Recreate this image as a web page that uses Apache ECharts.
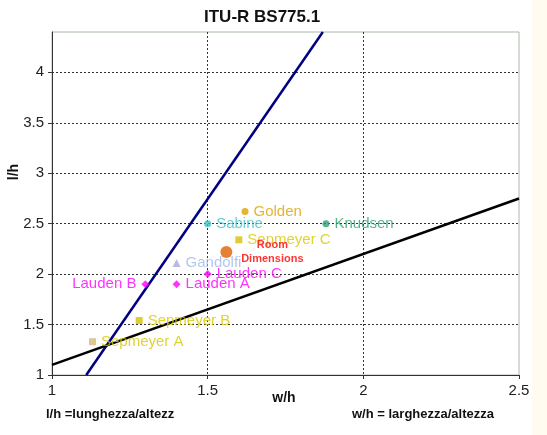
<!DOCTYPE html>
<html>
<head>
<meta charset="utf-8">
<script src="https://cdn.jsdelivr.net/npm/echarts@6/dist/echarts.min.js"></script>
<style>
  html, body { margin: 0; padding: 0; background: #fff; }
  #chart { width: 547px; height: 435px; }
</style>
</head>
<body>
<div id="chart"></div>
<script>
// rooms: w/h and l/h
const pointNames = ['Sepmeyer A', 'Sepmeyer B', 'Sepmeyer C', 'Lauden A', 'Lauden B', 'Lauden C',
                    'Gandolfi', 'Sabine', 'Golden', 'Knudsen', 'Room Dimensions'];
const whValues = [1.13, 1.28, 1.60, 1.40, 1.30, 1.50, 1.40, 1.50, 1.62, 1.88, 1.56];
const lhValues = [1.33, 1.54, 2.34, 1.90, 1.90, 2.00, 2.11, 2.50, 2.62, 2.50, 2.22];

// limit lines (w/h, l/h end points)
const upperLine = [[1.11, 1.0], [1.87, 4.4]];
const lowerLine = [[1.0, 1.1], [2.5, 2.75]];

const xTicks = [1, 1.5, 2, 2.5];
const yTicks = [1, 1.5, 2, 2.5, 3, 3.5, 4];

const FONT = 'Liberation Sans, Arial, sans-serif';

const styles = {
  'Sepmeyer A': { symbol: 'rect', size: 7, color: '#d8b878', text: '#d8c800' },
  'Sepmeyer B': { symbol: 'rect', size: 7, color: '#d8c000', text: '#d8c800' },
  'Sepmeyer C': { symbol: 'rect', size: 7, color: '#d8c000', text: '#d8c800' },
  'Lauden A': { symbol: 'diamond', size: 8, color: '#ff00ff', text: '#ff00ff' },
  'Lauden B': { symbol: 'diamond', size: 8, color: '#ff00ff', text: '#ff00ff', left: true },
  'Lauden C': { symbol: 'diamond', size: 8, color: '#ff00ff', text: '#ff00ff' },
  'Gandolfi': { symbol: 'triangle', size: 8, color: '#a8a8e0', text: '#a0b8e8' },
  'Sabine': { symbol: 'circle', size: 7, color: '#40c0c8', text: '#40c0c8' },
  'Golden': { symbol: 'circle', size: 7, color: '#e0a000', text: '#e0a000' },
  'Knudsen': { symbol: 'circle', size: 7, color: '#30a070', text: '#30a070' },
  'Room Dimensions': { symbol: 'circle', size: 12, color: '#e06000', text: '#ff0000', room: true }
};

const chart = echarts.init(document.getElementById('chart'));

const pointSeries = pointNames.map((name, i) => {
  const s = styles[name];
  let label = {
    show: true,
    formatter: name,
    position: s.left ? 'left' : 'right',
    distance: 5,
    color: s.text,
    fontSize: 15,
    fontFamily: FONT
  };
  if (s.room) {
    label = {
      show: true,
      formatter: 'Room\nDimensions',
      position: [52, 6],
      align: 'center',
      verticalAlign: 'middle',
      color: s.text,
      fontSize: 11,
      fontWeight: 'bold',
      lineHeight: 14,
      fontFamily: FONT
    };
  }
  return {
    name: name,
    type: 'scatter',
    data: [[whValues[i], lhValues[i]]],
    symbol: s.symbol,
    symbolSize: s.size,
    itemStyle: { color: s.color },
    label: label,
    z: 5
  };
});

const gridColors = (n) => {
  // hide the first (axis) and last (border) split lines
  const arr = [];
  for (let k = 0; k < n; k++) arr.push(k === 0 || k === n - 1 ? 'rgba(0,0,0,0)' : '#333');
  return arr;
};

chart.setOption({
  animation: false,
  backgroundColor: '#fff',
  title: {
    text: 'ITU-R BS775.1',
    left: 199,
    top: 4,
    textStyle: { fontSize: 17, fontWeight: 'bold', color: '#111', fontFamily: FONT }
  },
  grid: {
    left: 52, right: 28, top: 32, bottom: 60,
    outerBoundsMode: 'none',
    containLabel: false,
    show: true, borderColor: '#a8b8a8', borderWidth: 1, backgroundColor: '#fff'
  },
  xAxis: {
    type: 'value',
    min: 1, max: 2.5, interval: 0.5,
    axisLine: { show: true, lineStyle: { color: '#333', width: 1 } },
    axisTick: { show: true, length: 4, lineStyle: { color: '#333' } },
    axisLabel: {
      fontSize: 15, color: '#222', margin: 8,
      fontFamily: FONT,
      formatter: (v) => xTicks.indexOf(v) >= 0 ? String(v) : ''
    },
    splitLine: { show: true, lineStyle: { color: gridColors(xTicks.length), type: [2, 2], width: 1 } }
  },
  yAxis: {
    type: 'value',
    min: 1, max: 4.4, interval: 0.5,
    axisLine: { show: true, lineStyle: { color: '#333', width: 1 } },
    axisTick: { show: true, length: 4, lineStyle: { color: '#333' } },
    axisLabel: {
      fontSize: 15, color: '#222', margin: 8,
      fontFamily: FONT,
      showMaxLabel: false,
      formatter: (v) => yTicks.indexOf(v) >= 0 ? String(v) : ''
    },
    splitLine: { show: true, lineStyle: { color: gridColors(yTicks.length + 1), type: [2, 2], width: 1 } }
  },
  series: [
    {
      name: 'upper', type: 'line', data: upperLine, symbol: 'none',
      lineStyle: { color: '#000080', width: 2.5 }, z: 3
    },
    {
      name: 'lower', type: 'line', data: lowerLine, symbol: 'none',
      lineStyle: { color: '#000000', width: 2.5 }, z: 3
    }
  ].concat(pointSeries),
  graphic: [
    {
      type: 'text', x: 284, y: 398,
      style: { text: 'w/h', fontSize: 14, fontWeight: 'bold', fill: '#111', fontFamily: FONT, align: 'center', verticalAlign: 'middle' }
    },
    {
      type: 'text', x: 14, y: 172, rotation: Math.PI / 2,
      style: { text: 'l/h', fontSize: 14, fontWeight: 'bold', fill: '#111', fontFamily: FONT, align: 'center', verticalAlign: 'middle' }
    },
    {
      type: 'text', left: 46, top: 408,
      style: { text: 'l/h =lunghezza/altezz', fontSize: 13, fontWeight: 'bold', fill: '#111', fontFamily: FONT }
    },
    {
      type: 'text', left: 352, top: 408,
      style: { text: 'w/h = larghezza/altezza', fontSize: 13, fontWeight: 'bold', fill: '#111', fontFamily: FONT }
    },
    {
      type: 'rect', right: 0, top: 0, z: -1,
      shape: { width: 15, height: 435 },
      style: { fill: '#fffbef' }
    }
  ]
});
</script>
</body>
</html>
